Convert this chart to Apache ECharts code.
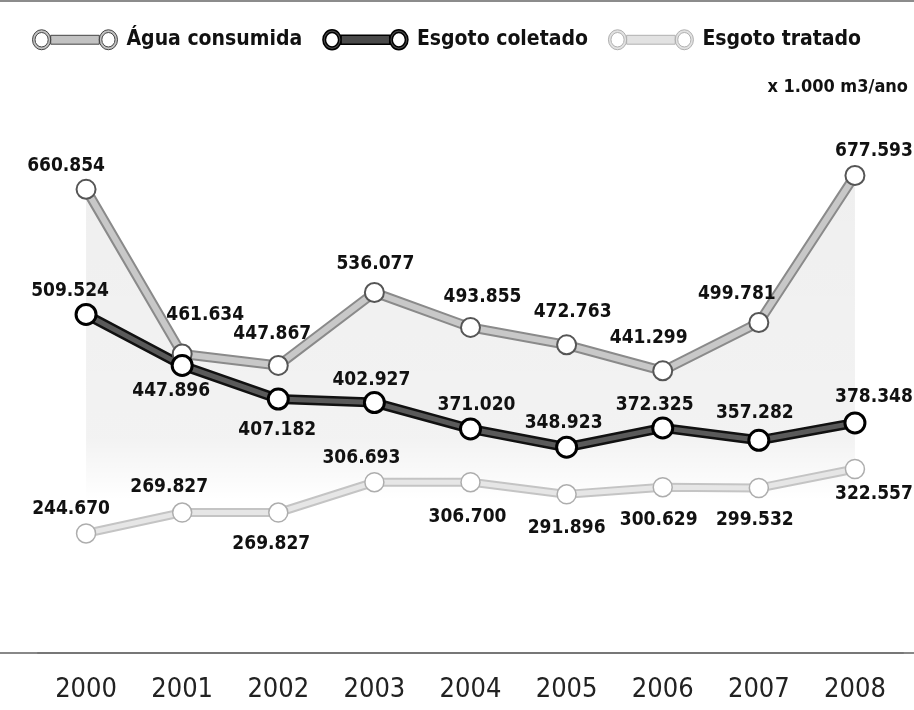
<!DOCTYPE html>
<html>
<head>
<meta charset="utf-8">
<script src="https://cdn.jsdelivr.net/npm/echarts@6/dist/echarts.min.js"></script>
<style>
html,body{margin:0;padding:0;background:#fff;}
#chart{width:914px;height:710px;}
</style>
</head>
<body>
<div id="chart"></div>
<script>
// ---- data ----
var years = ['2000','2001','2002','2003','2004','2005','2006','2007','2008'];
var aguaConsumida = [660.854, 461.634, 447.867, 536.077, 493.855, 472.763, 441.299, 499.781, 677.593];
var esgotoColetado = [509.524, 447.896, 407.182, 402.927, 371.020, 348.923, 372.325, 357.282, 378.348];
var esgotoTratado = [244.670, 269.827, 269.827, 306.693, 306.700, 291.896, 300.629, 299.532, 322.557];
var seriesNames = ['Água consumida', 'Esgoto coletado', 'Esgoto tratado'];
var unitText = 'x 1.000 m3/ano';

// ---- label placement (pixel offsets from each point) ----
var offAgua = [[-20,-23],[23,-39],[-6,-31],[1,-28],[12,-30],[6,-33],[-14,-33],[-22,-28],[19,-24]];
var offColetado = [[-16,-23],[-11,26],[-1,31],[-3,-23],[6,-24],[-3,-24],[-8,-23],[-4,-27],[19,-26]];
var offTratado = [[-15,-24],[-13,-26],[-7,31],[-13,-24],[-3,35],[0,34],[-4,33],[-4,32],[19,25]];

var FAM = '"Liberation Sans Narrow", "DejaVu Sans Condensed", sans-serif';

function withLabels(values, offsets) {
  return values.map(function (v, i) {
    return { value: v, label: { offset: offsets[i] } };
  });
}
function fmt(p) { return Number(p.value).toFixed(3); }

var labelBase = {
  show: true, position: 'inside', align: 'center', verticalAlign: 'middle',
  fontFamily: FAM, fontWeight: 'bold', fontSize: 19, color: '#111',
  formatter: fmt
};

// legend icon: ring - bar - ring
var iconPath = 'path://' +
  'M0.5,10 A9,9 0 1,1 18.5,10 A9,9 0 1,1 0.5,10 Z ' +
  'M3,10 A6.5,6.5 0 1,0 16,10 A6.5,6.5 0 1,0 3,10 Z ' +
  'M18.5,6 L66.5,6 L66.5,14 L18.5,14 Z ' +
  'M66.5,10 A9,9 0 1,1 84.5,10 A9,9 0 1,1 66.5,10 Z ' +
  'M69,10 A6.5,6.5 0 1,0 82,10 A6.5,6.5 0 1,0 69,10 Z';

var chart = echarts.init(document.getElementById('chart'));
var option = {
  animation: false,
  backgroundColor: '#fff',
  title: {
    text: unitText, right: 1, top: 73,
    textStyle: { fontFamily: FAM, fontWeight: 'bold', fontSize: 18, color: '#111' }
  },
  legend: {
    left: 27, top: 24, itemGap: 20, itemWidth: 85, itemHeight: 20,
    symbolKeepAspect: false,
    textStyle: { fontFamily: FAM, fontWeight: 'bold', fontSize: 21, color: '#111', padding: [0, 0, 0, 4] },
    data: [
      { name: seriesNames[0], icon: iconPath, itemStyle: { color: '#c2c2c2', borderColor: '#444', borderWidth: 1 } },
      { name: seriesNames[1], icon: iconPath, itemStyle: { color: '#4a4a4a', borderColor: '#000', borderWidth: 1.5 } },
      { name: seriesNames[2], icon: iconPath, itemStyle: { color: '#e2e2e2', borderColor: '#b0b0b0', borderWidth: 1 } }
    ]
  },
  grid: { left: 38, right: 11, top: 157, bottom: 57, outerBoundsMode: 'none' },
  xAxis: {
    type: 'category', data: years, boundaryGap: true,
    axisLine: { show: true, lineStyle: { color: '#777', width: 2 } },
    axisTick: { show: false },
    axisLabel: { fontFamily: FAM, fontSize: 27, color: '#222', margin: 23 },
    splitLine: { show: false }
  },
  yAxis: { type: 'value', min: 100, max: 700, show: false, splitLine: { show: false } },
  graphic: [
    { type: 'rect', left: 0, top: 0, shape: { width: 914, height: 2 }, style: { fill: '#8c8c8c' }, silent: true },
    { type: 'rect', left: 0, top: 652, shape: { width: 914, height: 2 }, style: { fill: '#888' }, silent: true, z: -1 }
  ],
  series: [
    // edge bands (under-strokes)
    { name: '_eTratado', type: 'line', data: esgotoTratado, symbol: 'none', silent: true, z: 1,
      lineStyle: { color: '#c4c4c4', width: 9 } },
    { name: '_eAgua', type: 'line', data: aguaConsumida, symbol: 'none', silent: true, z: 1,
      lineStyle: { color: '#8a8a8a', width: 10 },
      areaStyle: {
        color: { type: 'linear', x: 0, y: 0, x2: 0, y2: 1, colorStops: [
          { offset: 0, color: 'rgba(0,0,0,0.09)' },
          { offset: 0.55, color: 'rgba(0,0,0,0.07)' },
          { offset: 0.68, color: 'rgba(0,0,0,0)' },
          { offset: 1, color: 'rgba(0,0,0,0)' } ] }
      } },
    { name: '_eColetado', type: 'line', data: esgotoColetado, symbol: 'none', silent: true, z: 1,
      lineStyle: { color: '#111', width: 10 } },
    // main series
    { name: seriesNames[2], type: 'line', data: withLabels(esgotoTratado, offTratado), z: 3,
      symbol: 'circle', symbolSize: 19,
      lineStyle: { color: '#e6e6e6', width: 5 },
      itemStyle: { color: '#fff', borderColor: '#adadad', borderWidth: 1.5 },
      label: labelBase },
    { name: seriesNames[0], type: 'line', data: withLabels(aguaConsumida, offAgua), z: 4,
      symbol: 'circle', symbolSize: 19,
      lineStyle: { color: '#c8c8c8', width: 6 },
      itemStyle: { color: '#fff', borderColor: '#555', borderWidth: 2 },
      label: labelBase },
    { name: seriesNames[1], type: 'line', data: withLabels(esgotoColetado, offColetado), z: 5,
      symbol: 'circle', symbolSize: 20,
      lineStyle: { color: '#5a5a5a', width: 5 },
      itemStyle: { color: '#fff', borderColor: '#000', borderWidth: 3 },
      label: labelBase }
  ]
};
chart.setOption(option);
</script>
</body>
</html>
